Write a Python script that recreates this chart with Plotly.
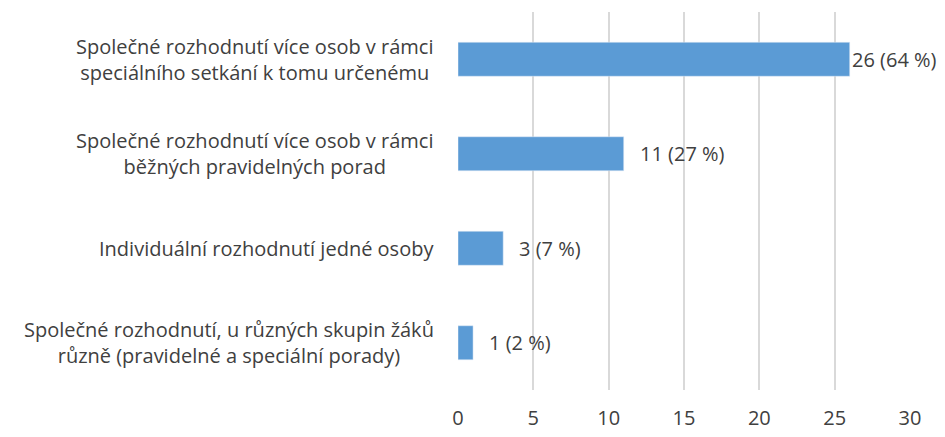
import plotly.graph_objects as go

categories = [
    "Společné rozhodnutí, u různých skupin žáků<br>různě (pravidelné a speciální porady)",
    "Individuální rozhodnutí jedné osoby",
    "Společné rozhodnutí více osob v rámci<br>běžných pravidelných porad",
    "Společné rozhodnutí více osob v rámci<br>speciálního setkání k tomu určenému",
]
values = [1, 3, 11, 26]
percents = [2, 7, 27, 64]
labels = [f"{v} ({p} %)" for v, p in zip(values, percents)]

FONT = "Open Sans"
TXT = "#404040"
FS = 20

fig = go.Figure(go.Bar(
    y=list(range(len(categories))),
    x=values,
    orientation="h",
    marker=dict(color="#5B9BD5"),
    width=0.36,
))

for i, c in enumerate(categories):
    fig.add_annotation(
        x=0, xref="paper", y=i, yref="y", text=c, showarrow=False,
        xanchor="right", xshift=-22, align="center",
        font=dict(family=FONT, size=FS, color=TXT),
    )

for i, (v, lab) in enumerate(zip(values, labels)):
    fig.add_annotation(
        x=v, xref="x", y=i, yref="y", text=lab, showarrow=False,
        xanchor="left", xshift=(14 if v < 25 else 0),
        font=dict(family=FONT, size=FS, color=TXT),
    )

# page body has an 8px default margin; figure sized to fit the window
fig.update_layout(
    width=937, height=429,
    margin=dict(l=450, r=35, t=4, b=47),
    plot_bgcolor="white", paper_bgcolor="white",
    showlegend=False,
    font=dict(family=FONT, size=FS, color=TXT),
    xaxis=dict(range=[0, 30], dtick=5, showgrid=True, gridcolor="#D9D9D9",
               gridwidth=1.5, zeroline=False, showline=False, ticks="",
               automargin=False, ticklabelstandoff=14,
               tickfont=dict(family=FONT, size=FS, color=TXT)),
    yaxis=dict(range=[-0.5, 3.5], showticklabels=False, showgrid=False,
               zeroline=False, showline=False, ticks="", automargin=False),
)

fig.write_html("out.html")
